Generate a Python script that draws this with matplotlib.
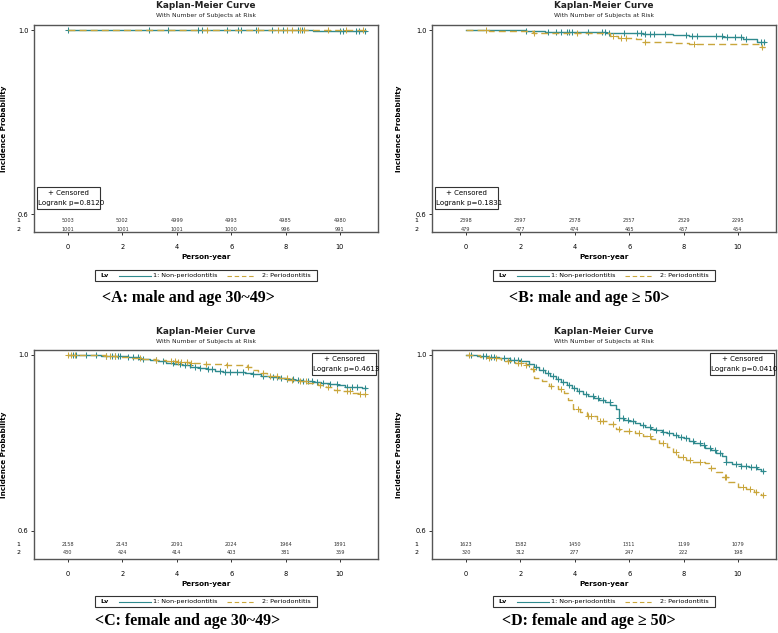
import numpy as np
import matplotlib
matplotlib.use("Agg")
import matplotlib.pyplot as plt
from matplotlib.patches import Rectangle

# ------------------------------------------------------------------
# dados
# ------------------------------------------------------------------
TEAL = "#2f8a8e"
GOLD = "#c9a63c"
EDGE = "#555555"

RISK_TIMES = [0, 2, 4, 6, 8, 10]

# A: male 30~49
A_T1 = [0, 6.2, 9.0, 10.95]
A_S1 = [1.0, 0.9995, 0.999, 0.999]
A_C1 = [0.0, 2.99, 3.66, 4.77, 4.91, 5.83, 6.24, 6.36, 6.91, 7.49, 7.92, 8.44,
        8.61, 10.0, 10.1, 10.59, 10.71, 10.92]
A_T2 = [0, 6.5, 10.95]
A_S2 = [1.0, 0.9993, 0.9993]
A_C2 = [5.1, 6.99, 7.73, 8.06, 8.25, 8.53, 8.68, 9.57, 10.24, 10.86]
A_R1 = [5003, 5002, 4999, 4993, 4985, 4980]
A_R2 = [1001, 1001, 1001, 1000, 996, 991]

# B: male >= 50
B_T1 = [0, 2.2, 2.9, 3.9, 5.15, 6.5, 7.6, 8.2, 9.45, 10.2, 10.7, 10.98]
B_S1 = [1.0, 0.999, 0.9964, 0.995, 0.9935, 0.992, 0.990, 0.987, 0.984, 0.980,
        0.975, 0.975]
B_C1 = [2.2, 3.0, 3.3, 3.5, 3.7, 3.8, 3.9, 4.5, 5.0, 5.1, 5.25, 5.8, 6.3, 6.45,
        6.6, 6.75, 6.9, 7.3, 8.1, 8.3, 8.5, 9.2, 9.4, 9.6, 9.9, 10.1, 10.3,
        10.85, 10.95]
B_T2 = [0, 0.86, 2.45, 4.05, 5.3, 5.6, 6.25, 6.5, 7.6, 8.2, 10.85, 10.98]
B_S2 = [1.0, 0.998, 0.994, 0.993, 0.988, 0.983, 0.980, 0.975, 0.971, 0.969,
        0.963, 0.963]
B_C2 = [0.74, 2.5, 4.1, 5.4, 5.7, 5.9, 6.6, 8.4, 10.9]
B_R1 = [2398, 2397, 2378, 2357, 2329, 2295]
B_R2 = [479, 477, 474, 465, 457, 454]

# C: female 30~49
C_T1 = [0, 1.2, 1.8, 2.2, 2.6, 3.0, 3.3, 3.6, 3.9, 4.2, 4.5, 4.8, 5.1, 5.4, 5.7,
        6.1, 6.5, 6.8, 7.1, 7.4, 7.7, 8.0, 8.3, 8.6, 9.0, 9.3, 9.6, 9.9, 10.2,
        10.5, 10.8, 10.95]
C_S1 = [1.0, 0.9985, 0.997, 0.994, 0.991, 0.989, 0.986, 0.982, 0.979, 0.976,
        0.973, 0.970, 0.967, 0.964, 0.962, 0.961, 0.959, 0.956, 0.953, 0.950,
        0.948, 0.945, 0.943, 0.941, 0.938, 0.936, 0.933, 0.931, 0.928, 0.926,
        0.924, 0.924]
C_C1 = [0.18, 0.31, 0.67, 1.04, 1.41, 1.6, 1.72, 1.84, 1.9, 2.21, 2.39, 2.58,
        2.76, 3.25, 3.5, 3.87, 4.11, 4.29, 4.48, 4.66, 4.85, 5.15, 5.28, 5.58,
        5.77, 5.95, 6.2, 6.44, 6.81, 7.18, 7.55, 7.67, 7.85, 8.04, 8.28, 8.47,
        8.65, 8.83, 8.96, 9.14, 9.39, 9.63, 9.88, 10.25, 10.43, 10.61, 10.92]
C_T2 = [0, 0.9, 1.4, 1.8, 2.3, 2.7, 3.2, 3.6, 4.0, 4.5, 5.0, 5.8, 6.6, 6.8, 7.0,
        7.3, 7.7, 8.1, 8.5, 8.8, 9.2, 9.5, 9.8, 10.1, 10.4, 10.7, 10.95]
C_S2 = [1.0, 0.999, 0.997, 0.996, 0.993, 0.991, 0.989, 0.986, 0.984, 0.982,
        0.980, 0.977, 0.972, 0.966, 0.959, 0.953, 0.948, 0.943, 0.940, 0.937,
        0.932, 0.926, 0.920, 0.917, 0.914, 0.911, 0.911]
C_C2 = [0.0, 0.12, 0.25, 1.41, 1.53, 1.72, 2.64, 3.25, 3.8, 3.93, 4.05, 4.17,
        4.36, 4.54, 5.09, 5.83, 6.63, 7.18, 7.42, 7.67, 8.04, 8.22, 8.53, 8.77,
        9.26, 9.57, 9.88, 10.25, 10.37, 10.74, 10.92]
C_R1 = [2158, 2143, 2091, 2024, 1964, 1891]
C_R2 = [430, 424, 414, 403, 381, 359]

# D: female >= 50
D_T1 = [0, 0.4, 0.8, 1.2, 1.6, 2.0, 2.3, 2.5, 2.7, 2.9, 3.1, 3.3, 3.5, 3.7, 3.9,
        4.1, 4.3, 4.5, 4.7, 4.9, 5.1, 5.3, 5.5, 5.62, 5.8, 6.0, 6.2, 6.4, 6.6,
        6.8, 7.0, 7.2, 7.4, 7.6, 7.8, 8.0, 8.2, 8.4, 8.6, 8.8, 9.0, 9.2, 9.4,
        9.55, 9.8, 10.1, 10.4, 10.7, 10.85, 10.95]
D_S1 = [1.0, 0.998, 0.995, 0.992, 0.989, 0.986, 0.979, 0.972, 0.965, 0.959,
        0.953, 0.946, 0.938, 0.931, 0.925, 0.917, 0.911, 0.906, 0.901, 0.897,
        0.892, 0.885, 0.876, 0.856, 0.853, 0.850, 0.846, 0.840, 0.835, 0.832,
        0.829, 0.825, 0.822, 0.818, 0.814, 0.810, 0.805, 0.800, 0.795, 0.789,
        0.783, 0.777, 0.769, 0.756, 0.752, 0.748, 0.745, 0.741, 0.737, 0.737]
D_C1 = [0.18, 0.61, 0.74, 0.92, 1.04, 1.41, 1.6, 1.78, 1.9, 2.02, 2.33, 2.58,
        2.82, 3.01, 3.19, 3.37, 3.56, 3.8, 3.99, 4.17, 4.42, 4.66, 4.85, 5.03,
        5.28, 5.64, 5.77, 5.95, 6.13, 6.5, 6.75, 7.0, 7.24, 7.48, 7.73, 7.91,
        8.1, 8.34, 8.59, 8.77, 8.96, 9.14, 9.33, 9.57, 9.94, 10.12, 10.31,
        10.49, 10.67, 10.92]
D_T2 = [0, 0.5, 0.86, 1.3, 1.8, 2.2, 2.4, 2.5, 2.8, 3.05, 3.4, 3.6, 3.75, 3.95,
        4.2, 4.45, 4.8, 5.2, 5.5, 5.65, 6.2, 6.5, 6.8, 7.1, 7.4, 7.6, 7.8, 8.1,
        8.3, 8.8, 8.95, 9.2, 9.4, 9.65, 10.0, 10.3, 10.6, 10.85, 10.95]
D_S2 = [1.0, 0.996, 0.992, 0.986, 0.982, 0.977, 0.968, 0.948, 0.940, 0.929,
        0.922, 0.914, 0.898, 0.878, 0.870, 0.860, 0.849, 0.843, 0.832, 0.826,
        0.822, 0.815, 0.808, 0.799, 0.790, 0.780, 0.768, 0.760, 0.757, 0.755,
        0.743, 0.733, 0.722, 0.710, 0.699, 0.695, 0.688, 0.682, 0.682]
D_C2 = [0.12, 0.86, 1.1, 1.53, 1.9, 2.02, 2.21, 2.45, 3.13, 3.5, 4.11, 4.48,
        4.6, 4.91, 5.03, 5.4, 5.64, 6.01, 6.38, 6.75, 7.24, 7.73, 7.98, 8.22,
        8.59, 9.02, 9.51, 9.57, 10.18, 10.43, 10.67, 10.92]
D_R1 = [1623, 1582, 1450, 1311, 1199, 1079]
D_R2 = [320, 312, 277, 247, 222, 198]

LOGRANK = ["Logrank p=0.8120", "Logrank p=0.1831", "Logrank p=0.4613",
           "Logrank p=0.0410"]
CAPTIONS = ["<A: male and age 30~49>", "<B: male and age \u2265 50>",
            "<C: female and age 30~49>", "<D: female and age \u2265 50>"]

# ------------------------------------------------------------------
# layout (pixels)
# ------------------------------------------------------------------
W, H = 778, 633
DX, DY = 398, 325

PANELS = [
    dict(curves=[(A_T1, A_S1, A_C1), (A_T2, A_S2, A_C2)], risk=(A_R1, A_R2),
         ox=0, oy=0, box="low", ylim=(0.561, 1.011), rows=(0.585, 0.567)),
    dict(curves=[(B_T1, B_S1, B_C1), (B_T2, B_S2, B_C2)], risk=(B_R1, B_R2),
         ox=DX, oy=0, box="low", ylim=(0.561, 1.011), rows=(0.585, 0.567)),
    dict(curves=[(C_T1, C_S1, C_C1), (C_T2, C_S2, C_C2)], risk=(C_R1, C_R2),
         ox=0, oy=DY, box="high", ylim=(0.536, 1.011), rows=(0.570, 0.550)),
    dict(curves=[(D_T1, D_S1, D_C1), (D_T2, D_S2, D_C2)], risk=(D_R1, D_R2),
         ox=DX, oy=DY, box="high", ylim=(0.536, 1.011), rows=(0.570, 0.550)),
]

plt.rcParams["font.family"] = "DejaVu Sans"
fig = plt.figure(figsize=(W / 100, H / 100), dpi=100, facecolor="white")

# camada de anotação em coordenadas de pixel (por cima dos eixos)
ov = fig.add_axes([0, 0, 1, 1])
ov.set_xlim(0, W)
ov.set_ylim(H, 0)
ov.axis("off")
ov.set_zorder(10)


def px_axes(left, top, right, bottom):
    return fig.add_axes([left / W, 1 - bottom / H, (right - left) / W,
                         (bottom - top) / H])


for i, p in enumerate(PANELS):
    ox, oy = p["ox"], p["oy"]
    top, bot = 25 + oy, 232 + oy + (2 if oy else 0)
    ax = px_axes(34 + ox, top, 378 + ox, bot)
    ax.set_xlim(-1.25, 11.4)
    ax.set_ylim(*p["ylim"])

    for (t, s, c), col, ls in zip(p["curves"], [TEAL, GOLD], ["-", (0, (5, 3))]):
        t = np.asarray(t)
        s = np.asarray(s)
        ax.step(t, s, where="post", color=col, lw=1.0, linestyle=ls)
        c = np.asarray(c)
        cy = s[np.searchsorted(t, c, side="right") - 1]
        ax.plot(c, cy, linestyle="none", marker="+", color=col,
                markersize=4.8, mew=0.75)

    # tabela de sujeitos em risco
    for r, (vals, yy) in enumerate(zip(p["risk"], p["rows"])):
        for x, v in zip(RISK_TIMES, vals):
            ax.text(x, yy, str(v), ha="center", va="center", fontsize=3.6,
                    color="#333333")
        ax.text(-0.04, yy, str(r + 1), transform=ax.get_yaxis_transform(),
                ha="right", va="center", fontsize=4.5)

    # caixa censored / logrank
    if p["box"] == "low":
        bx0, by0, bw, bh = 37 + ox, 187 + oy, 63, 22
    else:
        bx0, by0, bw, bh = 312 + ox, 353 - DY + oy, 64, 22
    rect = Rectangle((bx0, by0), bw, bh, fill=True, fc="white", ec="#333333",
                     lw=0.8)
    ov.add_patch(rect)
    clip = Rectangle((bx0, by0), bw, bh, transform=ov.transData)
    ov.text(bx0 + bw / 2, by0 + 6, "+ Censored", ha="center", va="center",
            fontsize=5.0)
    tx = ov.text(bx0 + 1.2, by0 + 16.5, LOGRANK[i], ha="left", va="center",
                 fontsize=5.1)
    tx.set_clip_path(clip)

    ax.set_xticks(RISK_TIMES)
    ax.set_yticks([0.6, 1.0])
    ax.set_yticklabels(["0.6", "1.0"])
    ax.tick_params(axis="both", direction="out", length=2.5, width=0.7,
                   labelsize=4.8, pad=1.5, color="#333333")
    ax.tick_params(axis="x", pad=6)
    for sp in ax.spines.values():
        sp.set_color(EDGE)
        sp.set_linewidth(1.0)
    ax.set_xlabel("Person-year", fontsize=5.2, fontweight="bold", labelpad=3)
    ax.set_ylabel("Incidence Probability", fontsize=5.2, fontweight="bold")
    lab_x = 7 if ox == 0 else 402
    ax.yaxis.set_label_coords((lab_x - (34 + ox)) / 344, 0.5)

    # títulos
    cx = (34 + 378) / 2 + ox
    ov.text(cx, 5 + oy + (1 if oy else 0), "Kaplan-Meier Curve", ha="center",
            va="center", fontsize=6.4, fontweight="bold", color="#222222")
    ov.text(cx, 16 + oy, "With Number of Subjects at Risk", ha="center",
            va="center", fontsize=4.4, color="#222222")

    # legenda
    lx, ly = 95 + ox, 270 + oy + (1 if oy else 0)
    ov.add_patch(Rectangle((lx, ly), 222, 11, fill=False, ec="#333333", lw=0.8))
    ym = ly + 5.5
    ov.text(lx + 5, ym, "Lv", ha="left", va="center", fontsize=4.6,
            fontweight="bold")
    ov.plot([lx + 24, lx + 56], [ym, ym], color=TEAL, lw=0.8)
    ov.text(lx + 58, ym, "1: Non-periodontitis", ha="left", va="center",
            fontsize=4.6)
    ov.plot([lx + 132, lx + 160], [ym, ym], color=GOLD, lw=0.8,
            linestyle=(0, (4, 2.5)))
    ov.text(lx + 167, ym, "2: Periodontitis", ha="left", va="center",
            fontsize=4.6)

    # legenda inferior
    ov.text(cx - 18 + (3 if i % 2 else 0), 298 + oy - (2 if oy else 0),
            CAPTIONS[i], ha="center", va="center", fontsize=11.5,
            fontweight="bold", family="Liberation Serif")

fig.savefig("out.png", dpi=100, facecolor="white")
